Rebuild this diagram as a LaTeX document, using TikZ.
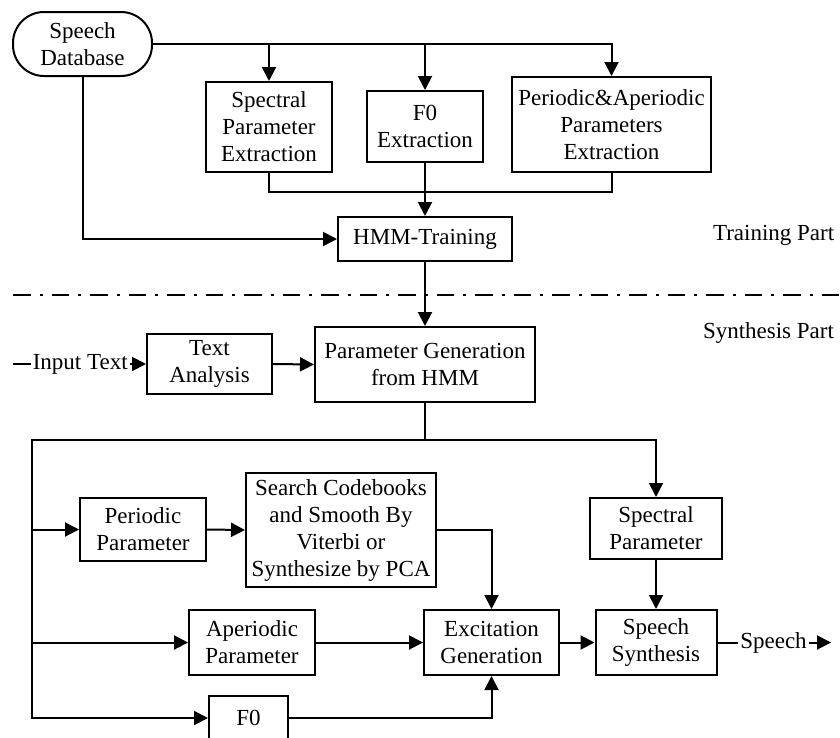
\documentclass[tikz,border=0pt]{standalone}
\usepackage{fontspec}
\setmainfont{Liberation Serif}
\usetikzlibrary{arrows.meta}
\begin{document}
\begin{tikzpicture}[x=1pt,y=1pt,line width=2pt,
  box/.style={draw,line width=2pt,align=center,inner sep=0pt,font=\fontsize{23}{27}\selectfont},
  arr/.style={-{Triangle[length=14pt,width=14pt]}},
  lbl/.style={inner sep=0pt,inner xsep=1pt,font=\fontsize{23}{27}\selectfont}]
\useasboundingbox (0,0) rectangle (840,-737);
\clip (0,0) rectangle (840,-737);
% training part
\node[box,rounded corners=31pt,minimum width=139pt,minimum height=64pt] (db) at (82.5,-44) {Speech\\Database};
\node[box,minimum width=126pt,minimum height=90pt] (spec) at (269,-127) {Spectral\\Parameter\\Extraction};
\node[box,minimum width=116pt,minimum height=71pt] (f0x) at (425,-126.5) {F0\\Extraction};
\node[box,minimum width=199pt,minimum height=95pt] (per) at (611.5,-124.5) {Periodic\&Aperiodic\\Parameters\\Extraction};
\node[box,minimum width=174pt,minimum height=44pt] (hmm) at (425,-239) {HMM-Training};
\node[lbl,anchor=base west] (tp) at (711,-240.5) {Training Part};
\node[lbl,anchor=base west] (sy) at (701,-338) {Synthesis Part};
\coordinate (dl0) at (13,-294.5);
\coordinate (dl1) at (840,-294.5);
\draw[dash pattern=on 17.5pt off 9pt on 3pt off 9pt] (dl0) -- (dl1);
% synthesis part
\node[box,minimum width=125pt,minimum height=60pt] (ta) at (209.5,-364) {Text\\Analysis};
\node[box,minimum width=220pt,minimum height=75pt] (pg) at (425,-364.5) {Parameter Generation\\from HMM};
\coordinate (in0) at (13,-364);
\node[lbl] (itx) at (80.2,-364) {Input Text};
\node[box,minimum width=126pt,minimum height=63pt] (pp) at (143,-529.5) {Periodic\\Parameter};
\node[box,minimum width=190pt,minimum height=114pt] (sc) at (341,-530) {Search Codebooks\\and Smooth By\\Viterbi or\\Synthesize by PCA};
\node[box,minimum width=132pt,minimum height=61pt] (sp) at (656,-528.5) {Spectral\\Parameter};
\node[box,minimum width=126pt,minimum height=65pt] (ap) at (252,-642.5) {Aperiodic\\Parameter};
\node[box,minimum width=135pt,minimum height=65pt] (ex) at (491.5,-642.5) {Excitation\\Generation};
\node[box,minimum width=121pt,minimum height=65pt] (ss) at (656,-642.5) {Speech\\Synthesis};
\node[box,minimum width=79pt,minimum height=44pt] (f0) at (248.5,-718) {F0};
\node[lbl] (spt) at (773.5,-642.5) {Speech};
\coordinate (out) at (831,-642.5);
\coordinate (mg) at (0,-192);
\coordinate (LT) at (31.7,-440);
% connectors
\draw[arr] (db.east) -| (per.north);
\draw[arr] (spec.north |- db.east) -- (spec.north);
\draw[arr] (f0x.north |- db.east) -- (f0x.north);
\draw (spec.south) -- (spec.south |- mg) -- (per.south |- mg) -- (per.south);
\draw[arr] (f0x.south) -- (hmm.north);
\draw[arr] (db.south) |- (hmm.west);
\draw[arr] (hmm.south) -- (pg.north);
\draw (in0) -- (itx.west);
\draw[arr] (itx.east) -- (ta.west);
\draw[arr] (ta.east) -- (pg.west);
\draw[arr] (pg.south) |- (LT) |- (f0.west);
\draw[arr] (pg.south |- LT) -| (sp.north);
\draw[arr] (LT |- pp.west) -- (pp.west);
\draw[arr] (LT |- ap.west) -- (ap.west);
\draw[arr] (pp.east) -- (sc.west);
\draw[arr] (sc.east) -| (ex.north);
\draw[arr] (ap.east) -- (ex.west);
\draw[arr] (f0.east) -| (ex.south);
\draw[arr] (sp.south) -- (ss.north);
\draw[arr] (ex.east) -- (ss.west);
\draw (ss.east) -- (spt.west);
\draw[arr] (spt.east) -- (out);
\end{tikzpicture}
\end{document}
